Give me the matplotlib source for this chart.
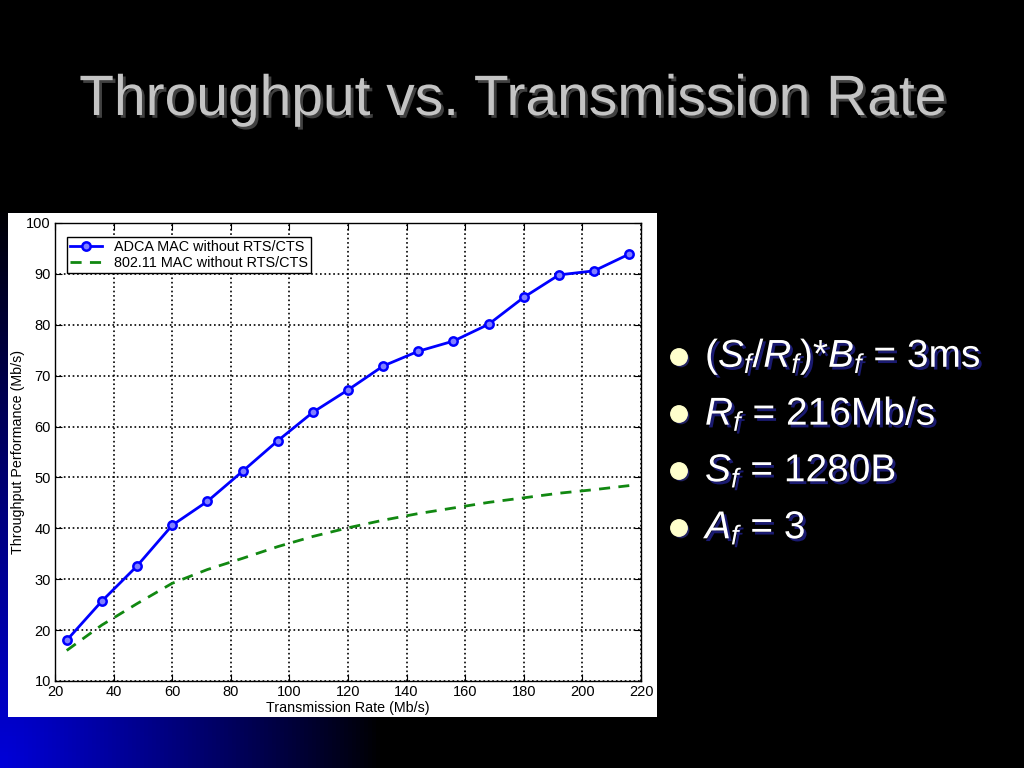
import numpy as np
import matplotlib.pyplot as plt
import matplotlib.patheffects as pe
from matplotlib.patches import Rectangle

plt.rcParams['font.family'] = ['Liberation Sans', 'DejaVu Sans']
plt.rcParams['mathtext.fontset'] = 'custom'
plt.rcParams['mathtext.rm'] = 'Liberation Sans'
plt.rcParams['mathtext.it'] = 'Liberation Sans:italic'

# data
rate = [24, 36, 48, 60, 72, 84, 96, 108, 120, 132, 144, 156, 168, 180, 192, 204, 216]
adca = [18.0, 25.7, 32.6, 40.6, 45.3, 51.2, 57.2, 62.8, 67.2, 71.9, 74.8, 76.8, 80.1, 85.4, 89.8, 90.6, 93.9]
dot11 = [16.0, 21.0, 25.2, 29.2, 31.9, 34.1, 36.4, 38.4, 40.1, 41.6, 42.9, 44.0, 45.1, 46.0, 46.9, 47.6, 48.4]

title = 'Throughput vs. Transmission Rate'
bullets = [r'$(S_f/R_f)$*$B_f$ = 3ms', r'$R_f$ = 216Mb/s', r'$S_f$ = 1280B', r'$A_f$ = 3']

fig = plt.figure(figsize=(10.24, 7.68), dpi=100)
fig.patch.set_facecolor('black')

# slide background: black with blue glow in lower left
bg = fig.add_axes([0, 0, 1, 1])
xx, yy = np.meshgrid(np.linspace(0, 1024, 256), np.linspace(0, 768, 192))
d = np.sqrt((xx / 380.0) ** 2 + (yy / 560.0) ** 2)
b = np.clip(1.0 - d, 0, 1) ** 0.9
img = np.zeros(xx.shape + (3,))
img[..., 2] = 0.85 * b
bg.imshow(img, origin='lower', extent=[0, 1024, 0, 768], aspect='auto')
bg.set_xlim(0, 1024)
bg.set_ylim(0, 768)
bg.axis('off')

# white picture panel
bg.add_patch(Rectangle((8, 51), 649, 504, facecolor='white', edgecolor='none'))

# title
bg.text(513, 668, title, ha='center', va='center', fontsize=41, color='#c4c4c4',
        path_effects=[pe.withSimplePatchShadow(offset=(2, -2), shadow_rgbFace='#404040', alpha=1)])

# bullet list
for i, s in enumerate(bullets):
    y = 411 - i * 57
    bg.scatter([679], [y], s=140, color='#ffffcc', zorder=3,
               path_effects=[pe.withSimplePatchShadow(offset=(1.5, -1.5), shadow_rgbFace='#202060', alpha=1)])
    bg.text(705, y, s, ha='left', va='center', fontsize=28, color='white',
            path_effects=[pe.withSimplePatchShadow(offset=(2, -2), shadow_rgbFace='#1a1a70', alpha=1)])

# the chart
ax = fig.add_axes([55 / 1024, 87 / 768, 586 / 1024, 458 / 768])
ax.set_facecolor('white')
ax.plot(rate, adca, '-o', color='#0000ff', lw=2, ms=6, mew=1.8,
        markerfacecolor='#8080ff', label='ADCA MAC without RTS/CTS')
ax.plot(rate, dot11, '--', color='#118811', lw=2, dashes=(4, 3),
        label='802.11 MAC without RTS/CTS')
ax.set_xlim(20, 220)
ax.set_ylim(10, 100)
ax.set_xticks(range(20, 221, 20))
ax.set_yticks(range(10, 101, 10))
ax.grid(True, linestyle=':', color='black', lw=1.2)
ax.tick_params(direction='in', top=True, right=True, labelsize=10.5, length=5, pad=3)
for sp in ax.spines.values():
    sp.set_linewidth(1)
ax.set_xlabel('Transmission Rate (Mb/s)', fontsize=10.3, labelpad=1)
ax.set_ylabel('Throughput Performance (Mb/s)', fontsize=10.3, labelpad=1)
leg = ax.legend(loc='upper left', bbox_to_anchor=(0.02, 0.97), fontsize=10.4, fancybox=False,
                framealpha=1, edgecolor='black', borderpad=0.25, labelspacing=0.1,
                handlelength=2.2, borderaxespad=0)
leg.get_frame().set_linewidth(1)

fig.savefig('out.png', dpi=100, facecolor='black')
